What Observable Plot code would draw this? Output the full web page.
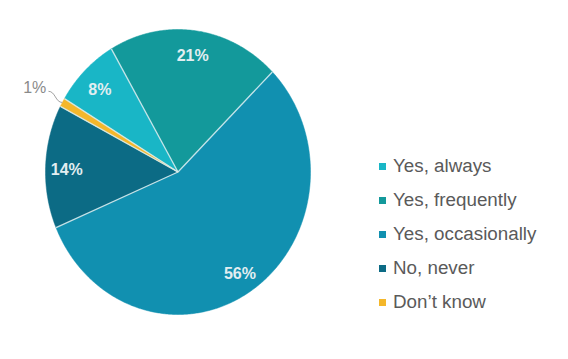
<!DOCTYPE html>
<html>
<head>
<meta charset="utf-8">
<script src="https://cdn.jsdelivr.net/npm/d3@7"></script>
<script src="https://cdn.jsdelivr.net/npm/@observablehq/plot@0.6"></script>
<style>
  html, body { margin: 0; padding: 0; background: #fff; }
  #wrap { position: relative; width: 568px; height: 359px; font-family: "Liberation Sans", Arial, sans-serif; }
  #legend { position: absolute; left: 379px; top: 149px; }
  .row { display: flex; align-items: center; height: 34px; font-size: 18.8px; color: #5a5a5a; }
  .sw { width: 7px; height: 7px; margin-right: 7px; }
</style>
</head>
<body>
<div id="wrap"><div id="legend"></div></div>
<script>
const categories = ["Yes, always", "Yes, frequently", "Yes, occasionally", "No, never", "Don’t know"];
const values = [8, 21, 56, 14, 1];
const labels = ["8%", "21%", "56%", "14%", "1%"];
const colors = ["#19b6c6", "#13999b", "#1190b0", "#0c6b85", "#f4b72b"];
const outsideLabel = ["Don’t know"];

const startDeg = -59;
const start = startDeg * Math.PI / 180;
const arcs = d3.pie().sort(null).startAngle(start).endAngle(start + 2 * Math.PI)(values);

const slicePts = [];
const bounds = [];
const textIn = [];
const textOut = [];
const leaders = [];
arcs.forEach((a, i) => {
  const cat = categories[i];
  slicePts.push({cat, x: 0, y: 0});
  const n = Math.max(4, Math.ceil((a.endAngle - a.startAngle) / 0.01));
  for (let k = 0; k <= n; k++) {
    const t = a.startAngle + (a.endAngle - a.startAngle) * k / n;
    slicePts.push({cat, x: Math.sin(t), y: Math.cos(t)});
  }
  slicePts.push({cat, x: 0, y: 0});
  bounds.push({x1: 0, y1: 0, x2: Math.sin(a.startAngle), y2: Math.cos(a.startAngle)});
  const m = (a.startAngle + a.endAngle) / 2;
  if (outsideLabel.includes(cat)) {
    leaders.push({x1: Math.sin(m) * 1.0, y1: Math.cos(m) * 1.0, x2: Math.sin(m) * 1.12, y2: Math.cos(m) * 1.12 + 0.02});
    textOut.push({x: Math.sin(m) * 1.13, y: Math.cos(m) * 1.12 + 0.045, label: labels[i]});
  } else {
    textIn.push({x: Math.sin(m) * 0.84, y: Math.cos(m) * 0.84 - 0.02, label: labels[i]});
  }
});

const plot = Plot.plot({
  width: 568,
  height: 359,
  margin: 0,
  x: {domain: [-1, 1], range: [45, 310], axis: null},
  y: {domain: [-1, 1], range: [314, 29], axis: null},
  color: {domain: categories, range: colors},
  style: {fontFamily: "Liberation Sans, Arial, sans-serif", background: "transparent"},
  marks: [
    Plot.line(slicePts, {x: "x", y: "y", z: "cat", fill: "cat", stroke: "cat", strokeWidth: 0.5, curve: "linear"}),
    Plot.link(bounds, {x1: "x1", y1: "y1", x2: "x2", y2: "y2", stroke: "#d6ecef", strokeWidth: 1.3, strokeOpacity: 0.9}),
    Plot.text(textIn, {x: "x", y: "y", text: "label", fill: "#e2eef1", fontSize: 16, fontWeight: "bold"}),
    Plot.link(leaders, {x1: "x1", y1: "y1", x2: "x2", y2: "y2", stroke: "#a0a0a0", strokeWidth: 1, curve: "bump-x"}),
    Plot.text(textOut, {x: "x", y: "y", text: "label", fill: "#8a8a8a", fontSize: 16, textAnchor: "end", dx: -1})
  ]
});
document.getElementById("wrap").prepend(plot);

const legend = document.getElementById("legend");
categories.forEach((c, i) => {
  const row = document.createElement("div");
  row.className = "row";
  const sw = document.createElement("span");
  sw.className = "sw";
  sw.style.background = colors[i];
  const tx = document.createElement("span");
  tx.textContent = c;
  row.append(sw, tx);
  legend.append(row);
});
</script>
</body>
</html>
